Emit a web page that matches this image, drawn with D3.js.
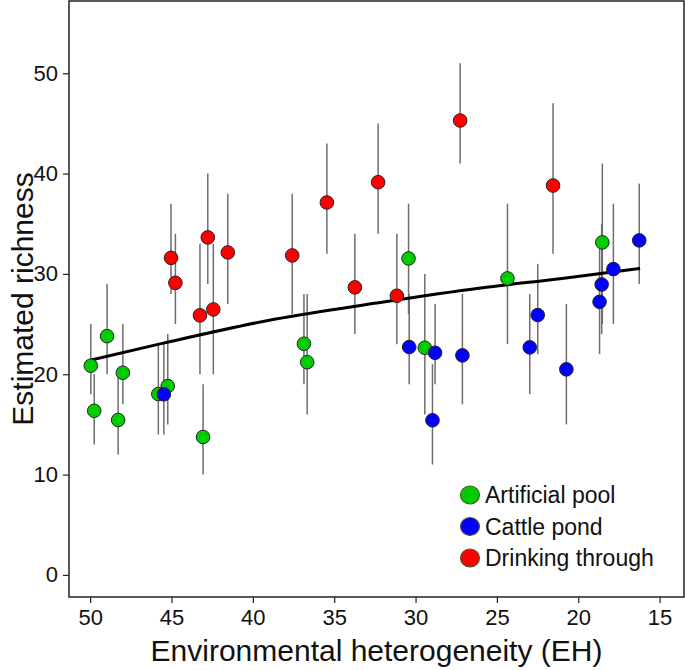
<!DOCTYPE html>
<html>
<head>
<meta charset="utf-8">
<script src="https://cdn.jsdelivr.net/npm/d3@7"></script>
<style>
  body { margin: 0; background: #fff; }
  text { font-family: "Liberation Sans", Arial, sans-serif; }
</style>
</head>
<body>
<script>
// Artificial pool
const poolEH = [49.96, 48.96, 47.99, 49.75, 48.28, 45.81, 45.23, 43.06, 36.86, 36.66, 30.43, 29.43, 24.35, 18.52];
const poolRich = [20.85, 23.8, 20.15, 16.36, 15.44, 18.03, 18.82, 13.75, 23.04, 21.2, 31.54, 22.64, 29.55, 33.14];
const poolLow = [18, 20, 17, 13, 12, 14, 15, 10, 19, 16, 26, 16, 23, 25];
const poolHigh = [25, 29, 25, 20, 20, 23, 24, 19, 28, 28, 37, 30, 37, 41];

// Cattle pond
const cattleEH = [45.47, 30.39, 28.8, 28.96, 27.12, 22.98, 22.49, 20.73, 18.69, 18.56, 17.84, 16.25];
const cattleRich = [18.0, 22.71, 22.14, 15.41, 21.88, 22.68, 25.9, 20.49, 27.22, 28.95, 30.48, 33.34];
const cattleLow = [14, 19, 19, 11, 17, 18, 22, 15, 22, 24, 25, 29];
const cattleHigh = [23, 28, 27, 21, 28, 28, 31, 27, 33, 35, 37, 39];

// Drinking through
const drinkEH = [45.03, 44.76, 42.77, 41.54, 43.25, 42.43, 37.58, 35.45, 33.73, 32.3, 31.15, 27.26, 21.55];
const drinkRich = [31.6, 29.11, 33.64, 32.14, 25.87, 26.46, 31.84, 37.12, 28.66, 39.14, 27.82, 45.29, 38.81];
const drinkLow = [28, 25, 29, 27, 20, 20, 26, 32, 24, 34, 23, 41, 32];
const drinkHigh = [37, 34, 40, 38, 33, 33, 38, 43, 34, 45, 34, 51, 47];

// fitted curve
const fitEH = [50, 45.5, 38.6, 32.4, 26, 21, 16.2];
const fitRich = [21.4, 23.1, 25.5, 27.1, 28.6, 29.55, 30.55];

const groups = ['Artificial pool', 'Cattle pond', 'Drinking through'];
const groupColors = ['#00CD00', '#0000FF', '#FF0000'];
const xTicks = [50, 45, 40, 35, 30, 25, 20, 15];
const yTicks = [0, 10, 20, 30, 40, 50];

const svgWidth = 685, svgHeight = 670;
const padL = 69, padR = 684, padT = 1, padB = 597;

const svg = d3.select('body').append('svg')
  .attr('width', svgWidth)
  .attr('height', svgHeight);

const x = d3.scaleLinear().domain([51.3, 13.5]).range([padL, padR]);
const y = d3.scaleLinear().domain([-2.2, 57.2]).range([padB, padT]);

function rows(eh, rich, low, high, g) {
  return eh.map((d, i) => ({eh: d, rich: rich[i], low: low[i], high: high[i], g: g}));
}
const data = [].concat(
  rows(poolEH, poolRich, poolLow, poolHigh, 0),
  rows(cattleEH, cattleRich, cattleLow, cattleHigh, 1),
  rows(drinkEH, drinkRich, drinkLow, drinkHigh, 2)
);

// axes
const xAxis = svg.append('g')
  .attr('transform', `translate(0,${padB})`)
  .call(d3.axisBottom(x).tickValues(xTicks).tickSize(6).tickPadding(6));
const yAxis = svg.append('g')
  .attr('transform', `translate(${padL},0)`)
  .call(d3.axisLeft(y).tickValues(yTicks).tickSize(6).tickPadding(5));

[xAxis, yAxis].forEach(a => {
  a.select('.domain').remove();
  a.selectAll('line').attr('stroke', '#222').attr('stroke-width', 1.2);
  a.selectAll('text').attr('fill', '#111').style('font-size', '22px');
});

// panel border
svg.append('rect')
  .attr('x', padL).attr('y', padT)
  .attr('width', padR - padL).attr('height', padB - padT)
  .attr('fill', 'none')
  .attr('stroke', '#222')
  .attr('stroke-width', 1.5);

// error bars
svg.append('g').selectAll('line')
  .data(data)
  .enter()
  .append('line')
  .attr('x1', d => x(d.eh))
  .attr('x2', d => x(d.eh))
  .attr('y1', d => y(d.low))
  .attr('y2', d => y(d.high))
  .attr('stroke', '#6e6e6e')
  .attr('stroke-width', 1.5);

// fitted curve
const line = d3.line()
  .x((d, i) => x(d))
  .y((d, i) => y(fitRich[i]))
  .curve(d3.curveMonotoneX);
svg.append('path')
  .attr('d', line(fitEH))
  .attr('fill', 'none')
  .attr('stroke', '#000')
  .attr('stroke-width', 3);

// points
svg.append('g').selectAll('circle')
  .data(data)
  .enter()
  .append('circle')
  .attr('cx', d => x(d.eh))
  .attr('cy', d => y(d.rich))
  .attr('r', 6.8)
  .attr('fill', d => groupColors[d.g])
  .attr('stroke', '#222')
  .attr('stroke-width', 1);

// legend
const legend = svg.append('g').attr('transform', 'translate(470,495)');
groups.forEach((name, i) => {
  const row = legend.append('g').attr('transform', `translate(0,${i * 31.5})`);
  row.append('ellipse')
    .attr('rx', 9.5).attr('ry', 9)
    .attr('fill', groupColors[i])
    .attr('stroke', '#4b5a2e')
    .attr('stroke-width', 1.2);
  row.append('text')
    .attr('x', 15).attr('y', 8)
    .attr('fill', '#111')
    .style('font-size', '23px')
    .text(name);
});

// axis titles
svg.append('text')
  .attr('x', (padL + padR) / 2)
  .attr('y', 661)
  .attr('text-anchor', 'middle')
  .attr('fill', '#111')
  .style('font-size', '30px')
  .text('Environmental heterogeneity (EH)');

svg.append('text')
  .attr('transform', `translate(33,${(padT + padB) / 2}) rotate(-90)`)
  .attr('text-anchor', 'middle')
  .attr('fill', '#111')
  .style('font-size', '30px')
  .text('Estimated richness');
</script>
</body>
</html>
